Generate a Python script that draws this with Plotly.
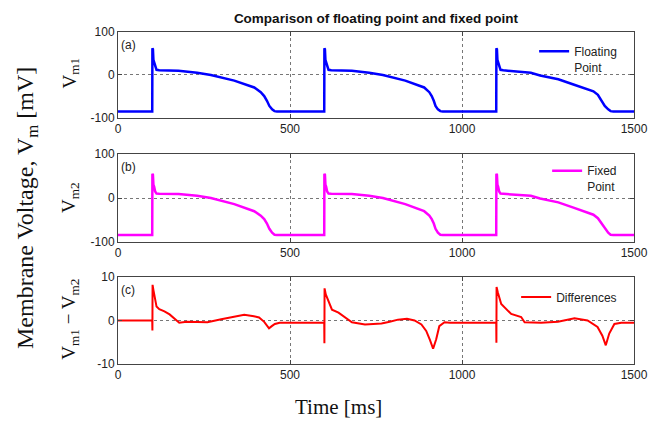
import plotly.graph_objects as go

# ---------------- data ----------------
t_float = [0, 99.5, 100, 101.5, 103, 105, 108, 112, 120, 176, 230, 270, 338, 396, 415, 425, 433, 440, 448, 455, 462,
           599.5, 600, 601.5, 603, 605, 608, 612, 620, 680, 730, 770, 835, 890, 905, 912, 918, 923, 930, 937, 944,
           1099.5, 1100, 1101.5, 1103, 1105, 1108, 1112, 1120, 1150, 1200, 1227, 1280, 1324, 1360, 1382, 1395, 1405,
           1415, 1425, 1432, 1440, 1500]
v_float = [-85, -85, 62, 60, 35, 30, 18, 12, 11, 10, 5, 0, -13, -29, -40, -49, -60, -72, -80, -84, -85,
           -85, 62, 60, 35, 30, 18, 12, 11, 10, 5, 0, -13, -29, -40, -49, -60, -72, -80, -84, -85,
           -85, 62, 60, 35, 30, 18, 12, 11, 9, 5, -1, -10, -22, -32, -38, -46, -58, -72, -80, -84, -85, -85]

t_fixed = t_float
v_fixed = [-84, -84, 55, 53, 30, 26, 15, 10, 9.5, 9, 5, 0, -14, -30, -40, -48, -58, -70, -79, -83.5, -84,
           -84, 55, 53, 30, 26, 15, 10, 9.5, 9, 5, 0, -14, -30, -40, -48, -58, -70, -79, -83.5, -84,
           -84, 55, 53, 30, 26, 15, 10, 9.5, 8, 5, -1, -10, -22, -32, -38, -46, -57, -70, -79, -83.5, -84, -84]

t_diff = [0, 99.5, 100, 100.5, 103, 107, 112, 120, 135, 150, 165, 178, 200, 260, 300, 340, 367, 395, 410, 425, 432,
          439, 447, 456, 470,
          599.5, 600, 600.5, 604, 612, 622, 641, 660, 680, 718, 766, 790, 814, 840, 862, 882, 896, 907, 912, 916,
          925, 934, 949, 965,
          1099.5, 1100, 1100.5, 1104, 1114, 1143, 1172, 1182, 1230, 1279, 1327, 1365, 1394, 1408, 1418, 1428, 1443,
          1463, 1500]
v_diff = [0, 0, -2.3, 8.2, 7.0, 5.0, 3.2, 2.6, 2.1, 1.4, 0.4, -0.5, -0.3, -0.4, 0.3, 0.9, 1.3, 1.0, 0.7, -0.3, -1.2,
          -1.8, -1.3, -0.8, -0.5,
          -0.5, -5.2, 7.4, 6.0, 4.3, 2.5, 1.8, 0.8, -0.4, -0.9, -0.7, -0.3, 0.2, 0.4, 0.0, -0.9, -2.4, -4.5, -5.9, -6.5,
          -4.3, -1.3, -0.4, -0.5,
          -0.5, -5.1, 7.7, 6.5, 3.8, 1.5, 0.8, -0.4, -0.5, -0.3, 0.5, 0.0, -1.5, -3.5, -5.7, -3.0, -0.8,
          -0.5, -0.5]

x_ticks = [0, 500, 1000, 1500]
x_ticktext = ["0", "500", "1000", "1500"]
y_ticks_v = [-100, 0, 100]
y_ticktext_v = ["-100", "0", "100"]
y_ticks_d = [-10, 0, 10]
y_ticktext_d = ["-10", "0", "10"]

# ---------------- figure ----------------
fig = go.Figure()
fig.add_trace(go.Scatter(x=t_float, y=v_float, mode="lines", name="Floating<br>Point",
                         line=dict(color="#0000ff", width=2.5), xaxis="x", yaxis="y", legend="legend"))
fig.add_trace(go.Scatter(x=t_fixed, y=v_fixed, mode="lines", name="Fixed<br>Point",
                         line=dict(color="#ff00ff", width=2.5), xaxis="x2", yaxis="y2", legend="legend2"))
fig.add_trace(go.Scatter(x=t_diff, y=v_diff, mode="lines", name="Differences",
                         line=dict(color="#ff0000", width=2), xaxis="x3", yaxis="y3", legend="legend3"))

tickfont = dict(family="Arial, Liberation Sans, sans-serif", size=12, color="#222")
axcommon = dict(showline=True, linecolor="#444", linewidth=1, mirror="ticks", ticks="inside", ticklen=4,
                tickcolor="#444", showgrid=True, gridcolor="#777", griddash="dot", gridwidth=1,
                zeroline=False, tickfont=tickfont)

dom_a = [0.741, 1.0]
dom_b = [0.3675, 0.6325]
dom_c = [0.0, 0.262]

layout = dict(
    width=661, height=421,
    margin=dict(l=118, r=27, t=32, b=57),
    paper_bgcolor="white", plot_bgcolor="white",
    showlegend=True,
    title=dict(text="<b>Comparison of floating point and fixed point</b>", x=376 / 661, xanchor="center",
               y=1 - 18 / 421, yanchor="middle",
               font=dict(family="Arial, Liberation Sans, sans-serif", size=13.5, color="#111")),
    xaxis=dict(domain=[0, 1], anchor="y", range=[0, 1500], tickvals=x_ticks, ticktext=x_ticktext, **axcommon),
    yaxis=dict(domain=dom_a, anchor="x", range=[-100, 100], tickvals=y_ticks_v, ticktext=y_ticktext_v, **axcommon),
    xaxis2=dict(domain=[0, 1], anchor="y2", range=[0, 1500], tickvals=x_ticks, ticktext=x_ticktext, **axcommon),
    yaxis2=dict(domain=dom_b, anchor="x2", range=[-100, 100], tickvals=y_ticks_v, ticktext=y_ticktext_v, **axcommon),
    xaxis3=dict(domain=[0, 1], anchor="y3", range=[0, 1500], tickvals=x_ticks, ticktext=x_ticktext, **axcommon),
    yaxis3=dict(domain=dom_c, anchor="x3", range=[-10, 10], tickvals=y_ticks_d, ticktext=y_ticktext_d, **axcommon),
)

legfont = dict(family="Arial, Liberation Sans, sans-serif", size=12, color="#222")
for key, ytop in (("legend", 0.985), ("legend2", 0.625), ("legend3", 0.245)):
    layout[key] = dict(x=0.977, xanchor="right", y=ytop, yanchor="top", bgcolor="rgba(255,255,255,0)",
                       borderwidth=0, font=legfont, valign="top", itemwidth=30, tracegroupgap=0)

fig.update_layout(**layout)

serif = "Times New Roman, Liberation Serif, serif"
ann = []
for lab, yref in (("(a)", "y domain"), ("(b)", "y2 domain"), ("(c)", "y3 domain")):
    xr = {"y domain": "x domain", "y2 domain": "x2 domain", "y3 domain": "x3 domain"}[yref]
    ann.append(dict(text=lab, xref=xr, yref=yref, x=0.002, y=0.95, xanchor="left", yanchor="top", showarrow=False,
                    font=dict(family="Arial, Liberation Sans, sans-serif", size=12, color="#222")))
for lab, yc in (("V<sub>m1</sub>", 0.875), ("V<sub>m2</sub>", 0.50), ("V<sub>m1</sub> − V<sub>m2</sub>", 0.133)):
    ann.append(dict(text=lab, xref="paper", yref="paper", x=(70 - 118) / 516, y=yc, xanchor="center",
                    yanchor="middle", textangle=-90, showarrow=False,
                    font=dict(family=serif, size=19, color="#111")))
ann.append(dict(text="Membrane Voltage, V<sub>m</sub> [mV]", xref="paper", yref="paper", x=(27 - 118) / 516,
                y=1 - (208 - 32) / 332, xanchor="center", yanchor="middle", textangle=-90, showarrow=False,
                font=dict(family=serif, size=24, color="#111")))
ann.append(dict(text="Time [ms]", xref="paper", yref="paper", x=(338 - 118) / 516, y=-(407 - 364) / 332,
                xanchor="center", yanchor="middle", showarrow=False,
                font=dict(family=serif, size=21, color="#111")))
fig.update_layout(annotations=ann)

fig.write_html("out.html", config={"displayModeBar": False},
               post_script="document.body.style.margin='0';document.body.style.overflow='hidden';")
